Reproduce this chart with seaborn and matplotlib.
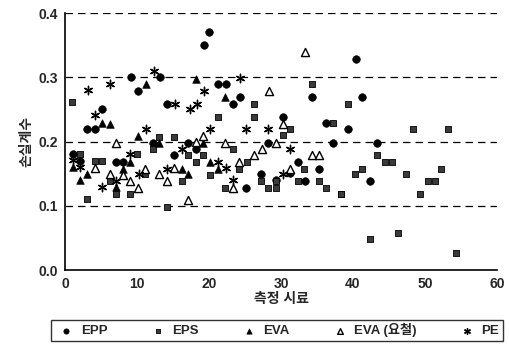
import matplotlib
matplotlib.use("Agg")
import matplotlib.pyplot as plt
import seaborn as sns
import pandas as pd

sns.set_theme(style="white")
plt.rcParams['font.family'] = ['Liberation Sans', 'Noto Sans CJK KR']
plt.rcParams['font.weight'] = 'bold'

epp_x = [19.3, 20, 40.4, 9.2, 13.2, 10.1, 14.2, 5.1, 3.0, 4.1, 21.3, 22.3, 34.3, 24.3, 23.3, 30.3, 36.25, 39.3,
         41.3, 43.3, 42.4, 28.2, 37.3, 32.3, 35.3, 27.2, 31.25, 33.3, 25.2, 29.3, 12.2, 17.1, 18.2, 1.07, 2.1, 7.1, 8.1, 15.2]
epp_y = [0.35, 0.37, 0.329, 0.30, 0.30, 0.279, 0.259, 0.251, 0.22, 0.22, 0.289, 0.289, 0.269, 0.269, 0.259, 0.239, 0.229, 0.219,
         0.269, 0.198, 0.138, 0.198, 0.198, 0.168, 0.158, 0.149, 0.151, 0.138, 0.128, 0.14, 0.198, 0.198, 0.188, 0.181, 0.17, 0.168, 0.168, 0.179]

eps_x = [1.0, 13.1, 15.2, 34.3, 26.3, 39.3, 21.2, 26.2, 31.3, 30.3, 37.3, 48.3, 53.2, 43.3, 44.4, 45.4, 41.3, 40.3, 47.4,
         50.4, 51.4, 52.3, 49.3, 38.4, 42.4, 46.3, 54.4, 23.3, 19.2, 25.25, 24.2, 33.2, 20.1, 27.2, 29.3, 32.3, 35.3, 22.2,
         28.2, 29.3, 36.3, 38.3, 12.2, 17.1, 18.2, 2.1, 4.1, 5.1, 10.0, 11.1, 6.2, 7.1, 9.0, 3.0, 14.1, 16.2]
eps_y = [0.262, 0.207, 0.207, 0.289, 0.259, 0.259, 0.239, 0.239, 0.219, 0.21, 0.229, 0.219, 0.219, 0.179, 0.168, 0.168, 0.158, 0.149, 0.149,
         0.138, 0.138, 0.158, 0.118, 0.118, 0.048, 0.057, 0.027, 0.188, 0.179, 0.168, 0.158, 0.158, 0.148, 0.138, 0.138, 0.138, 0.138, 0.128,
         0.128, 0.128, 0.127, 0.118, 0.188, 0.179, 0.168, 0.181, 0.17, 0.17, 0.18, 0.15, 0.138, 0.119, 0.119, 0.11, 0.098, 0.138]

eva_x = [11.3, 18.2, 5.1, 6.2, 10.1, 22.2, 19.2, 20.1, 21.3, 13.1, 1.07, 3.1, 2.1, 9.0, 8.1, 7.1, 16.2, 17.1]
eva_y = [0.289, 0.297, 0.229, 0.227, 0.208, 0.269, 0.198, 0.168, 0.158, 0.198, 0.161, 0.15, 0.14, 0.168, 0.158, 0.13, 0.158, 0.149]

evar_x = [33.4, 28.4, 19.2, 30.3, 22.2, 29.3, 26.3, 27.3, 34.3, 35.3, 24.2, 31.25, 23.3, 7.1, 18.2, 4.1, 11.1, 13.1, 14.1,
          6.2, 9.0, 10.1, 8.1, 17.1, 15.2]
evar_y = [0.339, 0.279, 0.208, 0.228, 0.198, 0.198, 0.179, 0.188, 0.179, 0.179, 0.168, 0.158, 0.128, 0.198, 0.2, 0.159, 0.158, 0.15, 0.138,
          0.15, 0.138, 0.127, 0.148, 0.109, 0.159]

pe_x = [12.3, 3.2, 6.2, 19.3, 15.3, 17.3, 18.3, 4.1, 11.25, 24.3, 20.1, 25.2, 28.2, 31.25, 21.3, 22.4, 30.3, 23.3, 16.2,
        1.07, 2.1, 9.0, 10.2, 7.1, 5.1, 14.1]
pe_y = [0.31, 0.28, 0.29, 0.279, 0.259, 0.25, 0.259, 0.241, 0.219, 0.299, 0.219, 0.219, 0.219, 0.188, 0.168, 0.159, 0.149, 0.14, 0.189,
        0.172, 0.161, 0.18, 0.15, 0.138, 0.13, 0.158]

labels = ['EPP', 'EPS', 'EVA', 'EVA (요철)', 'PE']
x_ticks = [0, 10, 20, 30, 40, 50, 60]
y_ticks = [0.0, 0.1, 0.2, 0.3, 0.4]

fig = plt.figure(figsize=(5.09, 3.44), dpi=100)
ax = fig.add_axes([0.128, 0.215, 0.848, 0.747])

series = [
    (epp_x, epp_y, dict(marker='o', color='black', edgecolor='black', s=30)),
    (eps_x, eps_y, dict(marker='s', color='#3a3a3a', edgecolor='black', linewidth=0.6, s=20)),
    (eva_x, eva_y, dict(marker='^', color='black', edgecolor='black', s=30)),
    (evar_x, evar_y, dict(marker='^', facecolor='white', edgecolor='black', linewidth=1.0, s=34)),
    (pe_x, pe_y, dict(marker=(6, 2, 0), color='black', linewidth=1.0, s=36)),
]
for (xs, ys, kw), lab in zip(series, labels):
    df = pd.DataFrame({'x': xs, 'y': ys})
    sns.scatterplot(data=df, x='x', y='y', ax=ax, label=lab, zorder=3, **kw)

ax.set_xlim(0, 60)
ax.set_ylim(0, 0.4)
ax.set_xticks(x_ticks)
ax.set_yticks(y_ticks)
ax.set_xticklabels([str(t) for t in x_ticks], fontsize=10, fontweight='bold')
ax.set_yticklabels([f"{t:.1f}" for t in y_ticks], fontsize=10, fontweight='bold')
ax.tick_params(axis='both', direction='in', length=4, width=1, color='black', pad=5)
for yv in y_ticks[1:]:
    ax.axhline(yv, color='black', linestyle=(0, (6, 4)), linewidth=0.9, zorder=1)
for side in ['top', 'right']:
    ax.spines[side].set_visible(False)
for side in ['left', 'bottom']:
    ax.spines[side].set_color('black')
    ax.spines[side].set_linewidth(1.2)
ax.set_xlabel('측정 시료', fontsize=10, fontweight='bold', labelpad=1)
ax.set_ylabel('손실계수', fontsize=10, fontweight='bold', labelpad=4)

handles, labs = ax.get_legend_handles_labels()
ax.get_legend().remove()
leg = fig.legend(handles, labs, loc='center', bbox_to_anchor=(0.544, 0.040), ncol=5,
                 frameon=True, fancybox=False, edgecolor='black', fontsize=9.5,
                 handletextpad=0.2, columnspacing=2.9, borderpad=0.25, borderaxespad=0,
                 markerscale=0.7, handlelength=1.8)
leg.get_frame().set_linewidth(1.0)
for t in leg.get_texts():
    t.set_fontweight('bold')

fig.savefig('out.png', dpi=100)
